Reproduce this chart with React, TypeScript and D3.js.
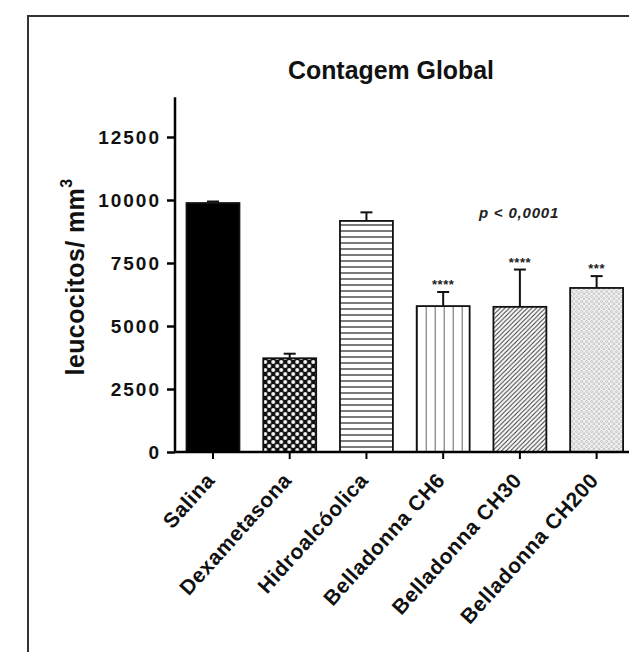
import { useEffect, useRef } from "react"
import * as d3 from "d3"

const categories = ["Salina", "Dexametasona", "Hidroalcóolica", "Belladonna CH6", "Belladonna CH30", "Belladonna CH200"]
const means = [9880, 3720, 9170, 5790, 5760, 6510]
const errors = [60, 180, 340, 560, 1480, 470]
const stars = ["", "", "", "****", "****", "***"]
const patterns = ["solid", "checker", "hlines", "vlines", "diag", "dots"]
const yTicks = [0, 2500, 5000, 7500, 10000, 12500]

export default function App() {
  const svgRef = useRef<SVGSVGElement>(null)

  useEffect(() => {
    if (!svgRef.current) return
    const svg = d3.select(svgRef.current)
    svg.selectAll("*").remove()

    const W = 629
    const H = 652
    const left = 175
    const bottom = 452
    const font = "'Liberation Sans', Arial, sans-serif"

    // Frame around the figure
    svg.append("rect").attr("x", 28).attr("y", 16).attr("width", W).attr("height", H)
      .attr("fill", "none").attr("stroke", "#333").attr("stroke-width", 2)

    const x = d3.scaleBand().domain(categories).range([left, left + 6 * 76.6]).paddingInner(0.31).paddingOuter(0.15)
    const y = d3.scaleLinear().domain([0, 14000]).range([bottom, bottom - 14000 * 0.0252])

    const defs = svg.append("defs")
    const pat = (id: string, w: number, h: number, i: number) =>
      defs.append("pattern").attr("id", id).attr("patternUnits", "userSpaceOnUse")
        .attr("x", x(categories[i]) || 0).attr("y", 0).attr("width", w).attr("height", h)

    const checker = pat("checker", 8, 8, 1)
    checker.append("rect").attr("width", 8).attr("height", 8).attr("fill", "#111")
    checker.append("circle").attr("cx", 2).attr("cy", 2).attr("r", 1.9).attr("fill", "#fff")
    checker.append("circle").attr("cx", 6).attr("cy", 6).attr("r", 1.9).attr("fill", "#fff")

    const hl = pat("hlines", 6, 6, 2)
    hl.append("rect").attr("width", 6).attr("height", 6).attr("fill", "#fff")
    hl.append("line").attr("x1", 0).attr("x2", 6).attr("y1", 3).attr("y2", 3).attr("stroke", "#222").attr("stroke-width", 1.2)

    const vl = pat("vlines", 9, 9, 3)
    vl.append("rect").attr("width", 9).attr("height", 9).attr("fill", "#fff")
    vl.append("line").attr("x1", 0).attr("x2", 0).attr("y1", 0).attr("y2", 9).attr("stroke", "#222").attr("stroke-width", 1.4)

    const dg = pat("diag", 4.5, 4.5, 4)
    dg.append("rect").attr("width", 4.5).attr("height", 4.5).attr("fill", "#fff")
    dg.append("path").attr("d", "M-1,5.5 L5.5,-1 M-1,1 L1,-1 M3.5,5.5 L5.5,3.5").attr("stroke", "#333").attr("stroke-width", 1)

    const dt = pat("dots", 5, 5, 5)
    dt.append("rect").attr("width", 5).attr("height", 5).attr("fill", "#f2f2f2")
    dt.append("circle").attr("cx", 1.5).attr("cy", 1.5).attr("r", 1).attr("fill", "none").attr("stroke", "#aaa").attr("stroke-width", 0.7)
    dt.append("circle").attr("cx", 4).attr("cy", 4).attr("r", 1).attr("fill", "none").attr("stroke", "#aaa").attr("stroke-width", 0.7)

    // Title
    svg.append("text").attr("x", 288).attr("y", 79)
      .attr("font-family", font).attr("font-weight", "bold")
      .attr("font-size", 25).attr("textLength", 206).attr("lengthAdjust", "spacingAndGlyphs")
      .attr("fill", "#111").text("Contagem Global")

    // Bars
    categories.forEach((c, i) => {
      const x0 = x(c) || 0
      const bw = x.bandwidth()
      const top = y(means[i])
      const fill = patterns[i] === "solid" ? "#000" : `url(#${patterns[i]})`
      svg.append("rect").attr("x", x0).attr("y", top).attr("width", bw).attr("height", bottom - top)
        .attr("fill", fill).attr("stroke", "#111").attr("stroke-width", 1.8)
      const cx = x0 + bw / 2
      const ey = y(means[i] + errors[i])
      svg.append("line").attr("x1", cx).attr("x2", cx).attr("y1", top).attr("y2", ey).attr("stroke", "#111").attr("stroke-width", 2)
      svg.append("line").attr("x1", cx - 6).attr("x2", cx + 6).attr("y1", ey).attr("y2", ey).attr("stroke", "#111").attr("stroke-width", 2)
      if (stars[i]) {
        svg.append("text").attr("x", cx).attr("y", ey - 3).attr("text-anchor", "middle")
          .attr("font-family", font).attr("font-weight", "bold").attr("font-size", 13).attr("letter-spacing", 0.5)
          .attr("fill", "#222").text(stars[i])
      }
    })

    // Y axis
    const yAxis = svg.append("g").attr("transform", `translate(${left},0)`)
      .call(d3.axisLeft(y).tickValues(yTicks).tickSize(8).tickPadding(6).tickFormat(d3.format("d")))
    yAxis.select(".domain").attr("d", `M0,${y(14080)}V${bottom}`).attr("stroke-width", 2.5)
    yAxis.selectAll(".tick line").attr("stroke-width", 2.5)
    yAxis.selectAll(".tick text").attr("font-family", font).attr("font-weight", "bold")
      .attr("font-size", 19).attr("letter-spacing", 2).attr("fill", "#111")

    // X axis
    const xAxis = svg.append("g").attr("transform", `translate(0,${bottom})`)
      .call(d3.axisBottom(x).tickSize(7).tickFormat(() => ""))
    xAxis.select(".domain").attr("d", `M${left},0H${W}`).attr("stroke-width", 2.5)
    xAxis.selectAll(".tick line").attr("stroke-width", 2)

    categories.forEach((c) => {
      const cx = (x(c) || 0) + x.bandwidth() / 2
      svg.append("text").attr("transform", `translate(${cx + 3},${bottom + 29}) rotate(-48)`)
        .attr("text-anchor", "end").attr("font-family", font).attr("font-weight", "bold")
        .attr("font-size", 21).attr("letter-spacing", 0.6).attr("fill", "#111").text(c)
    })

    // Y label
    const yl = svg.append("text").attr("transform", `translate(84,277) rotate(-90)`).attr("text-anchor", "middle")
      .attr("font-family", font).attr("font-weight", "bold").attr("font-size", 25).attr("letter-spacing", 0.4).attr("fill", "#111")
    yl.append("tspan").text("leucocitos/ mm")
    yl.append("tspan").attr("font-size", 16).attr("dy", -12).text("3")

    // p value
    svg.append("text").attr("x", 519).attr("y", 218).attr("text-anchor", "middle")
      .attr("font-family", font).attr("font-style", "italic").attr("font-weight", "bold").attr("font-size", 15)
      .attr("letter-spacing", 0.8).attr("fill", "#222")
      .text("p < 0,0001")
  }, [])

  return (
    <svg ref={svgRef} width={629} height={652} style={{ position: "absolute", left: 0, top: 0, background: "#fff" }} />
  )
}
